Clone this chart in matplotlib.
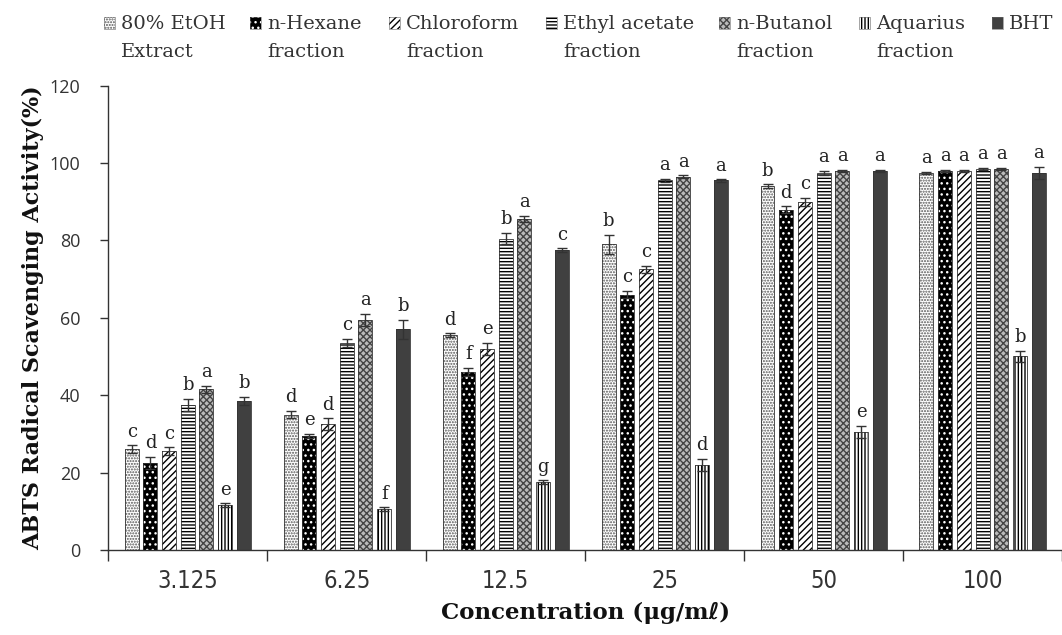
import matplotlib
matplotlib.use("Agg")
import matplotlib.pyplot as plt
from matplotlib.patches import Rectangle
import numpy as np

plt.rcParams['hatch.linewidth'] = 1.0

concentrations = ["3.125", "6.25", "12.5", "25", "50", "100"]
series_names = ["80% EtOH\nExtract", "n-Hexane\nfraction", "Chloroform\nfraction",
                "Ethyl acetate\nfraction", "n-Butanol\nfraction", "Aquarius\nfraction", "BHT"]

etoh      = [26.0, 35.0, 55.5, 79.0, 94.0, 97.5]
hexane    = [22.5, 29.5, 46.0, 66.0, 88.0, 98.0]
chloro    = [25.5, 32.5, 52.0, 72.5, 90.0, 98.0]
ethylac   = [37.5, 53.5, 80.5, 95.5, 97.5, 98.5]
butanol   = [41.5, 59.5, 85.5, 96.5, 98.0, 98.5]
aquarius  = [11.5, 10.5, 17.5, 22.0, 30.5, 50.0]
bht       = [38.5, 57.0, 77.5, 95.5, 98.0, 97.5]

etoh_err     = [1.0, 1.0, 0.5, 2.5, 0.5, 0.3]
hexane_err   = [1.5, 0.5, 1.0, 1.0, 0.8, 0.3]
chloro_err   = [1.0, 1.5, 1.5, 1.0, 1.0, 0.3]
ethylac_err  = [1.5, 1.0, 1.5, 0.5, 0.5, 0.3]
butanol_err  = [1.0, 1.5, 0.8, 0.3, 0.3, 0.3]
aquarius_err = [0.5, 0.5, 0.5, 1.5, 1.5, 1.5]
bht_err      = [1.0, 2.5, 0.5, 0.3, 0.3, 1.5]

etoh_let     = ["c", "d", "d", "b", "b", "a"]
hexane_let   = ["d", "e", "f", "c", "d", "a"]
chloro_let   = ["c", "d", "e", "c", "c", "a"]
ethylac_let  = ["b", "c", "b", "a", "a", "a"]
butanol_let  = ["a", "a", "a", "a", "a", "a"]
aquarius_let = ["e", "f", "g", "d", "e", "b"]
bht_let      = ["b", "b", "c", "a", "a", "a"]

values = [etoh, hexane, chloro, ethylac, butanol, aquarius, bht]
errors = [etoh_err, hexane_err, chloro_err, ethylac_err, butanol_err, aquarius_err, bht_err]
letters = [etoh_let, hexane_let, chloro_let, ethylac_let, butanol_let, aquarius_let, bht_let]

# style: (facecolor, hatchcolor, hatch)
styles = [
    ("white", "#555555", "......"),
    ("black", "white", "..."),
    ("white", "black", "/////"),
    ("white", "black", "-----"),
    ("#bbbbbb", "#444444", "xxxxx"),
    ("white", "black", "|||||"),
    ("#404040", "#404040", ""),
]

W, H = 1062, 635
fig = plt.figure(figsize=(W / 100, H / 100), dpi=100)
ax = fig.add_axes([0.102, 0.134, 0.898, 0.731])

n = len(series_names)
step = 0.1176
width = 0.088
x = np.arange(len(concentrations))
serif = "DejaVu Serif"
txtc = "#333333"

for i in range(n):
    fc, hc, h = styles[i]
    pos = x + (i - (n - 1) / 2) * step
    ax.bar(pos, values[i], width, color=fc, edgecolor=hc, hatch=h, linewidth=0)
    ax.bar(pos, values[i], width, fill=False, edgecolor="#333333", linewidth=0.6)
    ax.errorbar(pos, values[i], yerr=errors[i], fmt="none", ecolor="#333333",
                elinewidth=1.0, capsize=3.5, capthick=1.0)
    for p, v, e, t in zip(pos, values[i], errors[i], letters[i]):
        ax.text(p, v + e + 1.2, t, ha="center", va="bottom", fontsize=13,
                family=serif, color="#222222")

ax.set_ylim(0, 120)
ax.set_xlim(-0.5, len(concentrations) - 0.5)
ax.set_yticks(range(0, 121, 20))
ax.tick_params(axis="y", labelsize=13, direction="out", length=6, width=1, colors=txtc,
               labelcolor=txtc, pad=14)
for lab in ax.get_yticklabels():
    lab.set_family(["Open Sans", "DejaVu Sans"])
ax.set_xticks(x)
ax.set_xticklabels(concentrations, fontsize=17, color=txtc)
for lab in ax.get_xticklabels():
    lab.set_family(["Liberation Sans Narrow", "DejaVu Sans"])
    lab.set_fontstretch("condensed")
ax.tick_params(axis="x", length=0, pad=14)
ax.set_xticks(np.arange(-0.5, len(concentrations), 1.0), minor=True)
ax.tick_params(axis="x", which="minor", length=8, width=1, direction="out", colors=txtc)

for s in ["top", "right"]:
    ax.spines[s].set_visible(False)
for s in ["left", "bottom"]:
    ax.spines[s].set_color(txtc)
    ax.spines[s].set_linewidth(1.0)

ax.set_ylabel("ABTS Radical Scavenging Activity(%)", fontsize=16, fontweight="bold",
              family=serif, color="#111111")
ax.yaxis.set_label_coords(-0.067, 0.5)
ax.set_xlabel("Concentration (\u03bcg/m\u2113)", fontsize=16.5, fontweight="bold",
              family=[serif, "DejaVu Sans", "Noto Sans CJK JP"], labelpad=6, color="#111111")

# legend drawn manually: handle aligned with the first text line
legend_x = [104, 250, 389, 546, 719, 859, 992]   # handle left edges (px)
hw, hh = 11, 12
for i in range(n):
    fc, hc, h = styles[i]
    hx = legend_x[i]
    y0 = 1 - (23 + hh / 2) / H
    fig.patches.append(Rectangle((hx / W, y0), hw / W, hh / H,
                                 transform=fig.transFigure, facecolor=fc, edgecolor=hc,
                                 hatch=h, linewidth=0))
    fig.patches.append(Rectangle((hx / W, y0), hw / W, hh / H,
                                 transform=fig.transFigure, fill=False,
                                 edgecolor="#666666", linewidth=0.4))
    for k, line in enumerate(series_names[i].split("\n")):
        fig.text((hx + hw + 6) / W, 1 - (29 + 28 * k) / H, line, ha="left",
                 va="baseline", fontsize=14, family=serif, color=txtc)

fig.savefig("out.png", dpi=100)
